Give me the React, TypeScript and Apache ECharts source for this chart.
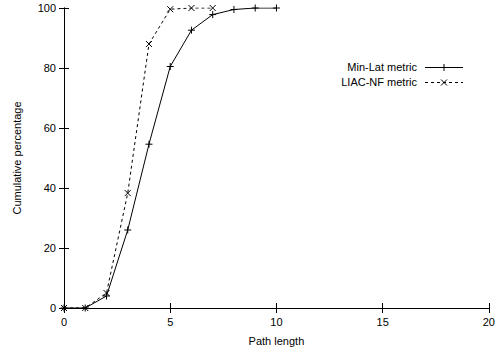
import React, { useEffect, useRef } from "react";
import * as echarts from "echarts";

const xMinLat = [0, 1, 2, 3, 4, 5, 6, 7, 8, 9, 10];
const yMinLat = [0, 0, 4, 26, 54.6, 80.5, 92.6, 97.8, 99.5, 100, 100];
const xLiac = [0, 1, 2, 3, 4, 5, 6, 7];
const yLiac = [0, 0, 5, 38.3, 88, 99.6, 100, 100];
const seriesNames = ["Min-Lat metric", "LIAC-NF metric"];

const PLUS = "path://M0,5L10,5M5,0L5,10";
const CROSS = "path://M0,0L10,10M10,0L0,10";
const FONT = "Liberation Sans, Arial, sans-serif";

export default function App() {
  const ref = useRef<HTMLDivElement>(null);
  useEffect(() => {
    const chart = echarts.init(ref.current!, undefined, { renderer: "svg" });
    const axisCommon = {
      axisLine: { show: true, lineStyle: { color: "#000", width: 1 } },
      axisTick: { show: true, inside: true, length: 5, lineStyle: { color: "#000" } },
      splitLine: { show: false },
    };
    const lx = 463, lx0 = 425;
    chart.setOption({
      animation: false,
      backgroundColor: "#fff",
      textStyle: { fontFamily: FONT },
      grid: { left: 64, right: 9, top: 8, bottom: 43 },
      xAxis: [
        {
          type: "value", min: 0, max: 20, interval: 5, position: "bottom",
          ...axisCommon,
          axisLabel: { color: "#000", fontSize: 11, margin: 8, fontFamily: FONT },
          name: "Path length", nameLocation: "middle", nameGap: 27,
          nameTextStyle: { color: "#000", fontSize: 11, fontFamily: FONT },
        },
        {
          type: "value", min: 0, max: 20, interval: 5, position: "top",
          ...axisCommon, axisLabel: { show: false },
        },
      ],
      yAxis: [
        {
          type: "value", min: 0, max: 100, interval: 20, position: "left",
          ...axisCommon,
          axisLabel: { color: "#000", fontSize: 11, margin: 8, fontFamily: FONT },
          name: "Cumulative percentage", nameLocation: "middle", nameGap: 42,
          nameTextStyle: { color: "#000", fontSize: 11, fontFamily: FONT },
        },
        {
          type: "value", min: 0, max: 100, interval: 20, position: "right",
          ...axisCommon, axisLabel: { show: false },
        },
      ],
      series: [
        {
          name: seriesNames[0], type: "line",
          data: xMinLat.map((x, i) => [x, yMinLat[i]]),
          symbol: PLUS, symbolSize: 7, showSymbol: true,
          lineStyle: { color: "#000", width: 1 },
          itemStyle: { color: "none", borderColor: "#000", borderWidth: 1 },
          z: 3,
        },
        {
          name: seriesNames[1], type: "line",
          data: xLiac.map((x, i) => [x, yLiac[i]]),
          symbol: CROSS, symbolSize: 6, showSymbol: true,
          lineStyle: { color: "#000", width: 1, type: [3, 3] },
          itemStyle: { color: "none", borderColor: "#000", borderWidth: 1 },
          z: 2,
        },
      ],
      graphic: [
        { type: "text", right: 498 - 417, top: 61, style: { text: seriesNames[0], fill: "#000", font: `11px ${FONT}`, textAlign: "right" } },
        { type: "text", right: 498 - 417, top: 76, style: { text: seriesNames[1], fill: "#000", font: `11px ${FONT}`, textAlign: "right" } },
        { type: "line", shape: { x1: lx0, y1: 67.5, x2: lx, y2: 67.5 }, style: { stroke: "#000", lineWidth: 1 } },
        { type: "line", shape: { x1: 444, y1: 64, x2: 444, y2: 71 }, style: { stroke: "#000", lineWidth: 1 } },
        { type: "line", shape: { x1: lx0, y1: 82.5, x2: lx, y2: 82.5 }, style: { stroke: "#000", lineWidth: 1, lineDash: [3, 3] } },
        { type: "line", shape: { x1: 441, y1: 79.5, x2: 447, y2: 85.5 }, style: { stroke: "#000", lineWidth: 1 } },
        { type: "line", shape: { x1: 447, y1: 79.5, x2: 441, y2: 85.5 }, style: { stroke: "#000", lineWidth: 1 } },
      ],
    });
    return () => chart.dispose();
  }, []);
  return <div ref={ref} style={{ width: 498, height: 351, position: "absolute", left: 0, top: 0 }} />;
}
